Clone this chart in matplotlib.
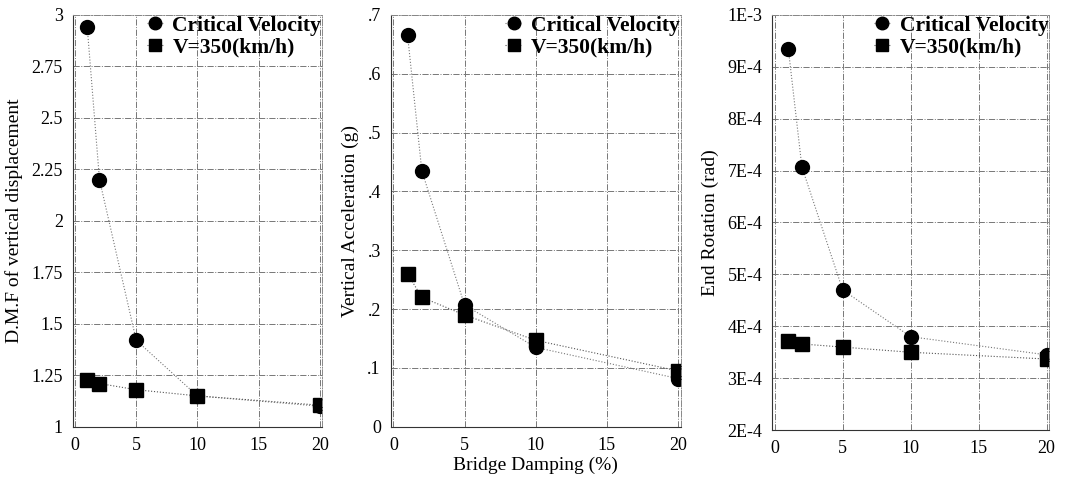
import matplotlib
matplotlib.use('Agg')
import matplotlib.pyplot as plt

plt.rcParams['font.family'] = ['Liberation Serif', 'DejaVu Serif']

# data
damping = [1, 2, 5, 10, 20]

dmf_crit = [2.94, 2.20, 1.42, 1.15, 1.10]
dmf_350 = [1.225, 1.21, 1.18, 1.15, 1.105]

acc_crit = [0.665, 0.435, 0.207, 0.135, 0.082]
acc_350 = [0.26, 0.22, 0.19, 0.147, 0.095]

rot_crit = [9.35e-4, 7.07e-4, 4.7e-4, 3.8e-4, 3.45e-4]
rot_350 = [3.72e-4, 3.66e-4, 3.6e-4, 3.5e-4, 3.37e-4]

xticks = [0, 5, 10, 15, 20]
dmf_ticks = [1, 1.25, 1.5, 1.75, 2, 2.25, 2.5, 2.75, 3]
dmf_labels = ['1', '1.25', '1.5', '1.75', '2', '2.25', '2.5', '2.75', '3']
acc_ticks = [0, 0.1, 0.2, 0.3, 0.4, 0.5, 0.6, 0.7]
acc_labels = ['0', '.1', '.2', '.3', '.4', '.5', '.6', '.7']
rot_ticks = [2e-4, 3e-4, 4e-4, 5e-4, 6e-4, 7e-4, 8e-4, 9e-4, 1e-3]
rot_labels = ['2E-4', '3E-4', '4E-4', '5E-4', '6E-4', '7E-4', '8E-4', '9E-4', '1E-3']

fig = plt.figure(figsize=(10.67, 4.79), dpi=100)

boxes = [[0.068, 0.109, 0.234, 0.860],
         [0.366, 0.109, 0.272, 0.860],
         [0.7235, 0.102, 0.260, 0.867]]
series = [(dmf_crit, dmf_350, dmf_ticks, dmf_labels, 'D.M.F of vertical displacement'),
          (acc_crit, acc_350, acc_ticks, acc_labels, 'Vertical Acceleration (g)'),
          (rot_crit, rot_350, rot_ticks, rot_labels, 'End Rotation (rad)')]

for i in range(3):
    crit, v350, yt, yl, ylab = series[i]
    ax = fig.add_axes(boxes[i])
    ax.plot(damping, crit, color='#777777', lw=0.8, ls=':', marker='o', ms=10,
            mfc='black', mec='black', label='Critical Velocity')
    ax.plot(damping, v350, color='#555555', lw=0.8, ls=':', marker='s', ms=10,
            mfc='black', mec='black', label='V=350(km/h)')
    ax.set_xlim(-0.2, 20.2)
    ax.set_ylim(yt[0], yt[-1])
    ax.set_xticks(xticks)
    ax.set_yticks(yt)
    ax.set_yticklabels(yl)
    ax.grid(True, color='#777777', ls='-.', lw=0.7)
    for s in ['top', 'right']:
        ax.spines[s].set_color('#888888')
        ax.spines[s].set_linestyle('-.')
        ax.spines[s].set_linewidth(0.7)
    for s in ['left', 'bottom']:
        ax.spines[s].set_color('#333333')
        ax.spines[s].set_linewidth(0.8)
    ax.tick_params(labelsize=13, length=0, pad=7)
    ax.set_ylabel(ylab, fontsize=14, labelpad=6)
    ax.legend(loc='upper right', frameon=False,
              prop={'weight': 'bold', 'size': 15.5}, handlelength=0.8,
              handletextpad=0.4, borderaxespad=0.0, labelspacing=0.05,
              borderpad=0.05, markerscale=0.9)
    if i == 1:
        ax.set_xlabel('Bridge Damping (%)', fontsize=14, labelpad=2)

fig.savefig('out.png', dpi=100)
